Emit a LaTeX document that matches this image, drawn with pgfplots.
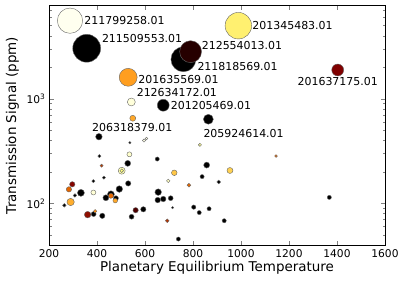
\documentclass[border=0pt]{standalone}
\usepackage{pgfplots}
\pgfplotsset{compat=1.18}
\usepackage{fontspec}
\setmainfont{DejaVu Sans}
\pgfplotsset{colormap={afmhot}{rgb255(0cm)=(0,0,0); rgb255(1cm)=(128,0,0); rgb255(2cm)=(255,128,0); rgb255(3cm)=(255,255,128); rgb255(4cm)=(255,255,255)}}
\pgfplotstableread{
x y r c
287.5 5560 12.7 0.97
357 3030 14 0.0
760 2377 12.5 0.0
790 2812 11 0.075
989 4980 13.3 0.72
1403 1880 6 0.25
530 1600 9 0.56
543 930 4 0.93
676 865 6 0.0
549 650 3 0.58
408 433 3.3 0.0
864 636 5 0.0
537 380 1.2 0.0
596 398 1.6 0.95
606 416 1.4 0.95
829 362 1.6 0.8
410 283 1.6 0.0
535 294 2.5 0.9
419 229 1.6 0.37
528 241 3 0.0
651 265 2.1 0.0
857 232 3 0.0
503 205 3.5 0.85
503 205 1.8 0.75
722 196 2.8 0.64
954 206 3 0.66
429 176 1.6 0.0
385 163 1.6 0.0
530 155 2.7 0.0
838 180 2.1 0.0
907 160 1.9 0.0
697 164 1.8 0.88
783 149 1.9 0.45
1146 283 1.4 0.45
297 152 2.7 0.26
283 136 2.7 0.45
333 126 3.5 0.0
385 127 2.5 0.92
493 137 3.3 0.0
308 119 1.8 0.0
458 122 3.5 0.0
458 118 2.5 0.46
437 113 3 0.0
479 112 2.5 0.0
476 106 2.3 0.58
290 103 3.7 0.59
264 95.7 1.8 0.0
361 78 3.3 0.28
386 79 2.5 0.0
392 84 1.8 0.53
422 76 2.7 0.0
561 86 2.7 0.15
593 87.7 2.7 0.0
544 74.5 2.5 0.0
655 128 3.3 0.0
653 107.5 2.8 0.0
676 110 2.8 0.0
707 112 2.5 0.0
715 91 1.2 0.0
803 92 2.2 0.0
826 81.6 2.1 0.0
867 88.8 2.1 0.0
693 68.2 1.9 0.35
930 68.2 2.1 0.0
739 45.6 2.1 0.0
1368 114 2.1 0.0
}\points
\begin{document}
\begin{tikzpicture}
\begin{axis}[
  scale only axis, width=336bp, height=240.4bp,
  xmin=200, xmax=1600, ymode=log, ymin=39.4, ymax=7800,
  xtick={200,400,...,1600},
  ytick={100,1000}, yticklabels={10\textsuperscript{2},10\textsuperscript{3}},
  minor ytick={40,50,60,70,80,90,200,300,400,500,600,700,800,900,2000,3000,4000,5000,6000,7000},
  /pgf/number format/assume math mode=true,
  /pgf/number format/set thousands separator={},
  tick label style={font=\fontsize{10.7}{12}\selectfont},
  label style={font=\fontsize{13.5}{15}\selectfont},
  xlabel={Planetary Equilibrium Temperature},
  ylabel={Transmission Signal (ppm)},
  xlabel style={yshift=3bp},
  ylabel style={yshift=1bp},
  tick align=inside, tick pos=both,
  major tick length=4.5bp, minor tick length=2.5bp,
  axis line style={line width=0.8bp},
  clip=false,
  point meta min=0, point meta max=1,
]
\coordinate (O) at (rel axis cs:0,0);
\addplot[scatter, only marks, mark=*, scatter src=explicit,
  scatter/use mapped color={draw=black!60, fill=mapped color},
  line width=0.4bp,
  visualization depends on={\thisrow{r}\as\rad},
  scatter/@pre marker code/.append style={/tikz/mark size=\rad}]
  table[x=x, y=y, meta=c]{\points};
\begin{scope}[every node/.style={font=\fontsize{11}{12}\selectfont, inner sep=0pt}]
\node[anchor=west] at (axis cs:347,5560) {211799258.01};
\node[anchor=west] at (axis cs:420,3718) {211509553.01};
\node[anchor=west] at (axis cs:572,1510) {201635569.01};
\node[anchor=west] at (axis cs:565,1151) {212634172.01};
\node[anchor=west] at (axis cs:707,865) {201205469.01};
\node[anchor=west] at (axis cs:379,528) {206318379.01};
\node[anchor=west] at (axis cs:836,3206) {212554013.01};
\node[anchor=west] at (axis cs:818,2022) {211818569.01};
\node[anchor=west] at (axis cs:1047,4980) {201345483.01};
\node[anchor=center] at (axis cs:1403,1453) {201637175.01};
\node[anchor=west] at (axis cs:843,468) {205924614.01};
\end{scope}
\end{axis}
\pgfresetboundingbox
\path (O) ++(-49bp,-39.3bp) rectangle ++(407bp,285bp);
\end{tikzpicture}
\end{document}
